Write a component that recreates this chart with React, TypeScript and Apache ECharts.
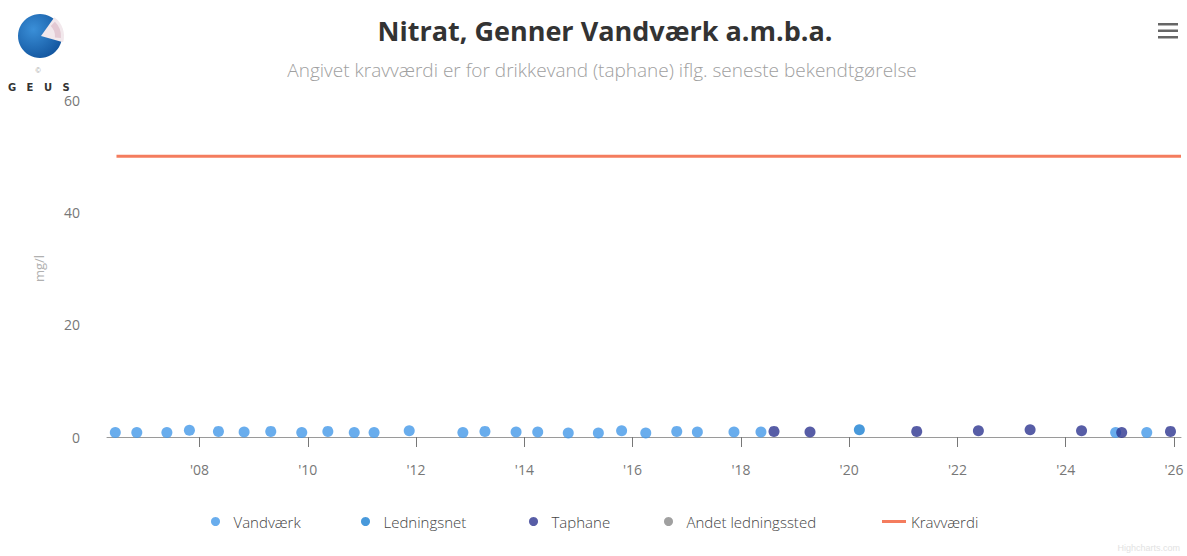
import React, { useEffect, useRef } from "react";
import * as echarts from "echarts";

const TITLE = "Nitrat, Genner Vandværk a.m.b.a.";
const SUBTITLE = "Angivet kravværdi er for drikkevand (taphane) iflg. seneste bekendtgørelse";

const vandvaerkDates = [
  "2006-06-12", "2006-11-04", "2007-05-26", "2007-10-25", "2008-05-08", "2008-10-28",
  "2009-04-26", "2009-11-21", "2010-05-16", "2010-11-10", "2011-03-24", "2011-11-16",
  "2012-11-12", "2013-04-10", "2013-11-06", "2014-04-01", "2014-10-24", "2015-05-15",
  "2015-10-19", "2016-03-30", "2016-10-25", "2017-03-13", "2017-11-15", "2018-05-16",
  "2024-12-03", "2025-07-01",
];
const vandvaerkValues = [
  0.8, 0.8, 0.8, 1.2, 1.0, 0.9, 1.0, 0.8, 1.0, 0.8, 0.8, 1.1,
  0.8, 1.0, 0.9, 0.9, 0.7, 0.7, 1.1, 0.7, 1.0, 0.9, 0.9, 0.9,
  0.8, 0.8,
];
const ledningsnetDates = ["2020-03-10"];
const ledningsnetValues = [1.3];
const taphaneDates = [
  "2018-08-12", "2019-04-12", "2021-04-01", "2022-05-22", "2023-05-06",
  "2024-04-17", "2025-01-13", "2025-12-08",
];
const taphaneValues = [1.0, 0.9, 1.0, 1.1, 1.3, 1.1, 0.8, 1.0];
const andetDates: string[] = [];
const andetValues: number[] = [];
const kravDates = ["2006-06-20", "2026-02-17"];
const kravValues = [50, 50];

const legendNames = ["Vandværk", "Ledningsnet", "Taphane", "Andet ledningssted", "Kravværdi"];
const legendLefts = [211, 361, 529, 664, 882];

const xMin = "2006-04-17";
const xMax = "2026-02-17";
const xTickYears = [2008, 2010, 2012, 2014, 2016, 2018, 2020, 2022, 2024, 2026];
const yMin = 0;
const yMax = 60;
const yInterval = 20;

const FONT = "'Open Sans', sans-serif";

const zip = (d: string[], v: number[]) => d.map((x, i) => [Date.parse(x), v[i]]);

export default function App() {
  const ref = useRef<HTMLDivElement>(null);
  useEffect(() => {
    if (!ref.current) return;
    const chart = echarts.init(ref.current, null, { renderer: "svg" });
    const tickValues = xTickYears.map((y) => Date.UTC(y, 0, 1));
    chart.setOption({
      animation: false,
      backgroundColor: "#ffffff",
      textStyle: { fontFamily: FONT },
      grid: { left: 107, right: 6, top: 100, bottom: 119 },
      xAxis: {
        type: "value",
        min: Date.parse(xMin),
        max: Date.parse(xMax),
        axisLine: { lineStyle: { color: "#9a9a9a", width: 1 } },
        axisTick: {
          show: true,
          length: 10,
          lineStyle: { color: "#777" },
          customValues: tickValues,
        },
        axisLabel: {
          customValues: tickValues,
          margin: 25,
          color: "#777",
          fontSize: 14,
          fontFamily: FONT,
          formatter: (v: number) => "'" + String(new Date(v).getUTCFullYear()).slice(2),
        },
        splitLine: { show: false },
      },
      yAxis: {
        type: "value",
        min: yMin,
        max: yMax,
        interval: yInterval,
        name: "mg/l",
        nameLocation: "middle",
        nameGap: 62,
        nameTextStyle: { color: "#b0b0b0", fontSize: 13, fontFamily: FONT },
        axisLine: { show: false },
        axisTick: { show: false },
        splitLine: { show: false },
        axisLabel: { color: "#777", fontSize: 14, margin: 27, fontFamily: FONT },
      },
      legend: legendNames.map((name, i) => ({
        left: legendLefts[i],
        top: 514,
        padding: 0,
        itemWidth: i < 4 ? 26 : 24,
        itemHeight: i < 4 ? 9 : 3,
        textStyle: { color: "#444", fontSize: 15, fontFamily: FONT, fontWeight: 300 },
        data: [i < 4 ? { name, icon: "circle" } : { name, icon: "rect" }],
      })),
      series: [
        {
          name: "Kravværdi",
          type: "line",
          data: zip(kravDates, kravValues),
          showSymbol: false,
          symbol: "none",
          color: "#f47c5e",
          lineStyle: { color: "#f47c5e", width: 3 },
          z: 1,
        },
        {
          name: "Vandværk",
          type: "scatter",
          data: zip(vandvaerkDates, vandvaerkValues),
          symbolSize: 11,
          symbolKeepAspect: true,
          itemStyle: { color: "#4499e8" },
          z: 3,
        },
        {
          name: "Ledningsnet",
          type: "scatter",
          data: zip(ledningsnetDates, ledningsnetValues),
          symbolSize: 11,
          symbolKeepAspect: true,
          itemStyle: { color: "#1a80d2" },
          z: 3,
        },
        {
          name: "Taphane",
          type: "scatter",
          data: zip(taphaneDates, taphaneValues),
          symbolSize: 11,
          symbolKeepAspect: true,
          itemStyle: { color: "#2d3490" },
          z: 4,
        },
        {
          name: "Andet ledningssted",
          type: "scatter",
          data: zip(andetDates, andetValues),
          symbolSize: 9,
          symbolKeepAspect: true,
          itemStyle: { color: "#888888" },
          z: 3,
        },
      ],
      graphic: [
        {
          type: "text",
          x: 605,
          y: 30,
          style: {
            text: TITLE,
            fill: "#333",
            font: "bold 27px 'Open Sans', sans-serif",
            align: "center",
            verticalAlign: "middle",
          },
        },
        {
          type: "text",
          x: 602,
          y: 70,
          style: {
            text: SUBTITLE,
            fill: "#a0a0a0",
            font: "300 19px 'Open Sans', sans-serif",
            align: "center",
            verticalAlign: "middle",
          },
        },
        { type: "rect", shape: { x: 1158, y: 23, width: 20, height: 2.5 }, style: { fill: "#666" } },
        { type: "rect", shape: { x: 1158, y: 29.5, width: 20, height: 2.5 }, style: { fill: "#666" } },
        { type: "rect", shape: { x: 1158, y: 36, width: 20, height: 2.5 }, style: { fill: "#666" } },
        {
          type: "circle",
          shape: { cx: 40, cy: 36, r: 22 },
          style: {
            fill: new echarts.graphic.RadialGradient(0.35, 0.35, 0.8, [
              { offset: 0, color: "#3a8fd8" },
              { offset: 1, color: "#0e4f98" },
            ]),
          },
        },
        {
          type: "sector",
          shape: { cx: 41, cy: 36, r0: 0, r: 23, startAngle: -0.95, endAngle: 0.28 },
          style: { fill: "#f2e8ec" },
        },
        {
          type: "sector",
          shape: { cx: 41, cy: 36, r0: 14, r: 20, startAngle: -0.8, endAngle: 0.1 },
          style: { fill: "#e3c9d3" },
        },
        {
          type: "text",
          x: 38,
          y: 70,
          style: { text: "©", fill: "#999", font: "7px sans-serif", align: "center", verticalAlign: "middle" },
        },
        ...["G", "E", "U", "S"].map((ch, i) => ({
          type: "text",
          x: 12 + i * 18,
          y: 87,
          style: { text: ch, fill: "#333", font: "bold 10px 'DejaVu Sans', sans-serif", align: "center", verticalAlign: "middle" },
        })),
        {
          type: "text",
          x: 1180,
          y: 548,
          style: { text: "Highcharts.com", fill: "#e2e2e2", font: "9px sans-serif", align: "right", verticalAlign: "middle" },
        },
      ],
    });
    return () => chart.dispose();
  }, []);
  return (
    <div
      ref={ref}
      style={{ position: "fixed", left: 0, top: 0, width: 1187, height: 556, background: "#fff" }}
    />
  );
}
